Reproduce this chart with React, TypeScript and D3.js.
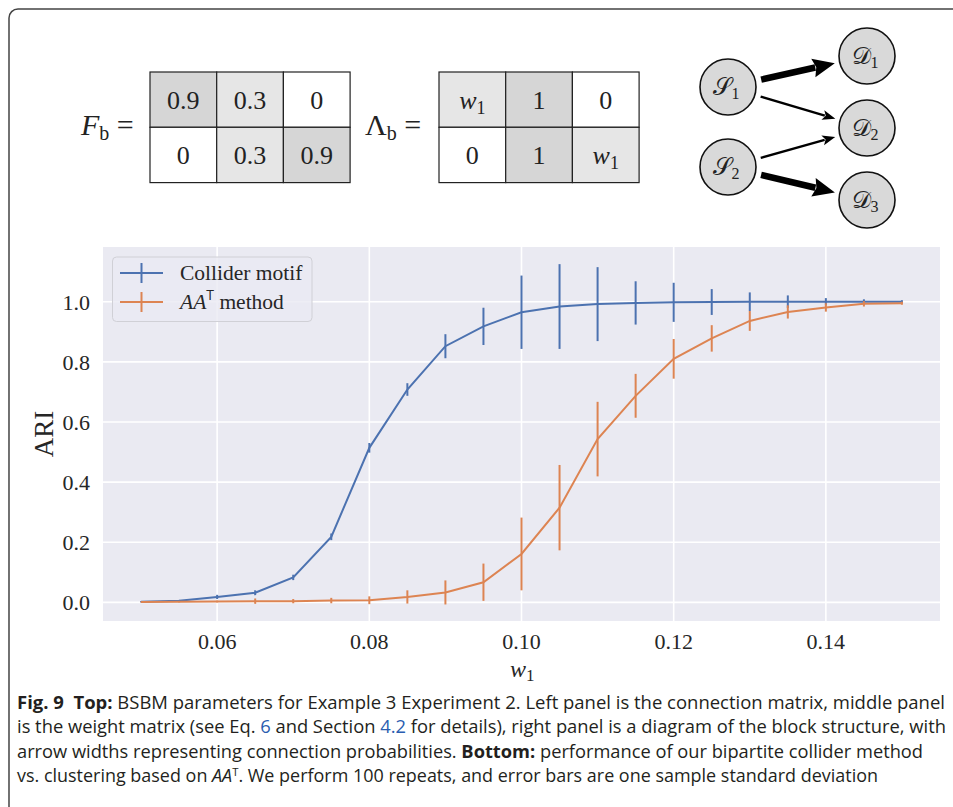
import React from "react";
import * as d3 from "d3";

// w1 values on the x axis
const wValues = [
  0.05, 0.055, 0.06, 0.065, 0.07, 0.075, 0.08, 0.085, 0.09, 0.095, 0.1, 0.105,
  0.11, 0.115, 0.12, 0.125, 0.13, 0.135, 0.14, 0.145, 0.15,
];
const colliderMean = [
  0.002, 0.005, 0.018, 0.032, 0.083, 0.218, 0.514, 0.708, 0.852, 0.918, 0.965,
  0.984, 0.992, 0.996, 0.998, 0.999, 1.0, 1.0, 1.0, 1.0, 1.0,
];
const colliderStd = [
  0.002, 0.003, 0.007, 0.008, 0.009, 0.011, 0.016, 0.021, 0.04, 0.062, 0.122,
  0.141, 0.123, 0.072, 0.065, 0.043, 0.031, 0.021, 0.012, 0.008, 0.005,
];
const aatMean = [
  0.001, 0.002, 0.003, 0.004, 0.004, 0.006, 0.007, 0.018, 0.033, 0.067, 0.161,
  0.315, 0.543, 0.687, 0.81, 0.878, 0.936, 0.966, 0.981, 0.993, 0.995,
];
const aatStd = [
  0.001, 0.002, 0.003, 0.009, 0.007, 0.009, 0.013, 0.022, 0.04, 0.062, 0.121,
  0.142, 0.124, 0.073, 0.066, 0.044, 0.033, 0.022, 0.014, 0.009, 0.005,
];
const xTicks = [0.06, 0.08, 0.1, 0.12, 0.14];
const yTicks = [0.0, 0.2, 0.4, 0.6, 0.8, 1.0];

// top panels
const fbCells = [
  ["0.9", "0.3", "0"],
  ["0", "0.3", "0.9"],
];
const fbShade = [
  [2, 1, 0],
  [0, 1, 2],
];
const lbCells = [
  ["w1", "1", "0"],
  ["0", "1", "w1"],
];
const lbShade = [
  [1, 2, 0],
  [0, 2, 1],
];
const nodes = [
  { id: "S1", letter: "\u{1D4AE}", sub: "1", col: 0, row: 0 },
  { id: "S2", letter: "\u{1D4AE}", sub: "2", col: 0, row: 1 },
  { id: "D1", letter: "\u{1D49F}", sub: "1", col: 1, row: 0 },
  { id: "D2", letter: "\u{1D49F}", sub: "2", col: 1, row: 1 },
  { id: "D3", letter: "\u{1D49F}", sub: "3", col: 1, row: 2 },
];
const edges = [
  { from: "S1", to: "D1", p: 0.9 },
  { from: "S1", to: "D2", p: 0.3 },
  { from: "S2", to: "D2", p: 0.3 },
  { from: "S2", to: "D3", p: 0.9 },
];

type Seg = { t: string; b?: boolean; i?: boolean; link?: boolean; sup?: boolean };
const captionLines: { segs: Seg[]; len: number }[] = [
  {
    len: 928,
    segs: [
      { t: "Fig. 9\u00a0\u00a0Top:", b: true },
      { t: " BSBM parameters for Example 3 Experiment 2. Left panel is the connection matrix, middle panel" },
    ],
  },
  {
    len: 929,
    segs: [
      { t: "is the weight matrix (see Eq. " },
      { t: "6", link: true },
      { t: " and Section " },
      { t: "4.2", link: true },
      { t: " for details), right panel is a diagram of the block structure, with" },
    ],
  },
  {
    len: 906,
    segs: [
      { t: "arrow widths representing connection probabilities. " },
      { t: "Bottom:", b: true },
      { t: " performance of our bipartite collider method" },
    ],
  },
  {
    len: 861,
    segs: [
      { t: "vs. clustering based on " },
      { t: "AA", i: true },
      { t: "T", sup: true },
      { t: ". We perform 100 repeats, and error bars are one sample standard deviation" },
    ],
  },
];

const BLUE = "#4C72B0";
const ORANGE = "#DD8452";
const SERIF = "'Liberation Serif', 'DejaVu Serif', serif";
const SANS = "'Open Sans', 'Noto Sans', sans-serif";
const shades = ["#ffffff", "#e6e6e6", "#d6d6d6"];

const plot = { left: 103, right: 940, top: 247, bottom: 621 };

const Matrix = ({ x0, y0, cells, shade }) => {
  const cw = 66.7;
  const ch = 55.3;
  return (
    <g>
      {cells.map((row, r) =>
        row.map((v, c) => (
          <g key={`${r}-${c}`}>
            <rect
              x={x0 + c * cw}
              y={y0 + r * ch}
              width={cw}
              height={ch}
              fill={shades[shade[r][c]]}
              stroke="#222"
              strokeWidth={1.2}
            />
            {v === "w1" ? (
              <text
                x={x0 + c * cw + cw / 2}
                y={y0 + r * ch + ch / 2 + 9}
                textAnchor="middle"
                fontFamily={SERIF}
                fontSize={26}
                fill="#222"
              >
                <tspan fontStyle="italic">w</tspan>
                <tspan fontSize={18} dy={5}>1</tspan>
              </text>
            ) : (
              <text
                x={x0 + c * cw + cw / 2}
                y={y0 + r * ch + ch / 2 + 9}
                textAnchor="middle"
                fontFamily={SERIF}
                fontSize={26}
                fill="#222"
              >
                {v}
              </text>
            )}
          </g>
        ))
      )}
    </g>
  );
};

const App = () => {
  const x = d3.scaleLinear().domain([0.045, 0.155]).range([plot.left, plot.right]);
  const y = d3.scaleLinear().domain([-0.062, 1.182]).range([plot.bottom, plot.top]);
  const line = d3
    .line<number>()
    .x((d, i) => x(wValues[i]))
    .y((d) => y(d));

  const series = [
    { mean: colliderMean, std: colliderStd, color: BLUE },
    { mean: aatMean, std: aatStd, color: ORANGE },
  ];

  // diagram layout
  const nx = d3.scaleOrdinal<number, number>().domain([0, 1]).range([728, 867]);
  const nyS = d3.scaleLinear().domain([0, 1]).range([87, 167]);
  const nyD = d3.scaleLinear().domain([0, 2]).range([56, 200]);
  const R = 28;
  const pos = {};
  nodes.forEach((n) => {
    pos[n.id] = { x: nx(n.col), y: n.col === 0 ? nyS(n.row) : nyD(n.row) };
  });
  const widthScale = d3.scaleLinear().domain([0.3, 0.9]).range([2.4, 6.5]);
  const headLen = d3.scaleLinear().domain([0.3, 0.9]).range([13, 22]);
  const headHalf = d3.scaleLinear().domain([0.3, 0.9]).range([5, 9.5]);

  return (
    <svg
      width={953}
      height={807}
      style={{ position: "absolute", left: 0, top: 0, background: "#fff" }}
    >
      {/* frame */}
      <rect x={9} y={9} width={970} height={830} rx={9} fill="none" stroke="#444" strokeWidth={1.5} />

      {/* F_b matrix */}
      <text x={81} y={135} fontFamily={SERIF} fontSize={30} fill="#222">
        <tspan fontStyle="italic">F</tspan>
        <tspan fontSize={20} dy={5}>b</tspan>
        <tspan dy={-5}> =</tspan>
      </text>
      <Matrix x0={150} y0={72} cells={fbCells} shade={fbShade} />

      {/* Lambda_b matrix */}
      <text x={365} y={135} fontFamily={SERIF} fontSize={30} fill="#222">
        <tspan>Λ</tspan>
        <tspan fontSize={20} dy={5}>b</tspan>
        <tspan dy={-5}> =</tspan>
      </text>
      <Matrix x0={439} y0={72} cells={lbCells} shade={lbShade} />

      {/* block diagram */}
      {edges.map((e, i) => {
        const a = pos[e.from];
        const b = pos[e.to];
        const dx = b.x - a.x;
        const dy = b.y - a.y;
        const L = Math.hypot(dx, dy);
        const ux = dx / L;
        const uy = dy / L;
        const sx = a.x + ux * (R + 6);
        const sy = a.y + uy * (R + 6);
        const tx = b.x - ux * (R + 5);
        const ty = b.y - uy * (R + 5);
        const hl = headLen(e.p);
        const hh = headHalf(e.p);
        const bx = tx - ux * hl;
        const by = ty - uy * hl;
        const head = `M${tx},${ty}L${bx - uy * hh},${by + ux * hh}L${bx + ux * 3},${by + uy * 3}L${bx + uy * hh},${by - ux * hh}Z`;
        return (
          <g key={i}>
            <line x1={sx} y1={sy} x2={bx + ux * 2} y2={by + uy * 2} stroke="#000" strokeWidth={widthScale(e.p)} />
            <path d={head} fill="#000" />
          </g>
        );
      })}
      {nodes.map((n) => (
        <g key={n.id}>
          <circle cx={pos[n.id].x} cy={pos[n.id].y} r={R} fill="#d9d9d9" stroke="#111" strokeWidth={1.6} />
          <text
            x={pos[n.id].x - 2}
            y={pos[n.id].y + 8}
            textAnchor="middle"
            fontFamily="'DejaVu Sans', 'DejaVu Serif', 'Noto Sans', serif"
            fontSize={24}
            fill="#222"
          >
            <tspan>{n.letter}</tspan>
            <tspan fontFamily={SERIF} fontSize={16} dy={4}>{n.sub}</tspan>
          </text>
        </g>
      ))}

      {/* plot background */}
      <rect
        x={plot.left}
        y={plot.top}
        width={plot.right - plot.left}
        height={plot.bottom - plot.top}
        fill="#EAEAF2"
      />
      {xTicks.map((t) => (
        <line key={t} x1={x(t)} x2={x(t)} y1={plot.top} y2={plot.bottom} stroke="#fff" strokeWidth={1.6} />
      ))}
      {yTicks.map((t) => (
        <line key={t} x1={plot.left} x2={plot.right} y1={y(t)} y2={y(t)} stroke="#fff" strokeWidth={1.6} />
      ))}

      {/* series */}
      {series.map((s, k) => (
        <g key={k}>
          <path d={line(s.mean) ?? ""} fill="none" stroke={s.color} strokeWidth={2} />
          {s.mean.map((m, i) => (
            <line
              key={i}
              x1={x(wValues[i])}
              x2={x(wValues[i])}
              y1={y(m - s.std[i])}
              y2={y(m + s.std[i])}
              stroke={s.color}
              strokeWidth={2}
            />
          ))}
        </g>
      ))}

      {/* tick labels */}
      {xTicks.map((t) => (
        <text
          key={t}
          x={x(t)}
          y={649}
          textAnchor="middle"
          fontFamily={SERIF}
          fontSize={22}
          fill="#262626"
        >
          {d3.format(".2f")(t)}
        </text>
      ))}
      {yTicks.map((t) => (
        <text
          key={t}
          x={90}
          y={y(t) + 8}
          textAnchor="end"
          fontFamily={SERIF}
          fontSize={22}
          fill="#262626"
        >
          {d3.format(".1f")(t)}
        </text>
      ))}

      {/* axis labels */}
      <text x={510} y={677} fontFamily={SERIF} fontSize={24} fill="#262626">
        <tspan fontStyle="italic">w</tspan>
        <tspan fontSize={17} dy={4}>1</tspan>
      </text>
      <text
        transform={`translate(53,${(plot.top + plot.bottom) / 2}) rotate(-90)`}
        textAnchor="middle"
        fontFamily={SERIF}
        fontSize={27}
        fill="#262626"
      >
        ARI
      </text>

      {/* legend */}
      <rect x={112.5} y={257} width={199.5} height={64.5} rx={4} fill="rgba(234,234,242,0.8)" stroke="#d0d0d6" strokeWidth={1} />
      {[
        { color: BLUE, label: "collider" },
        { color: ORANGE, label: "aat" },
      ].map((d, i) => {
        const ry = 273 + i * 29;
        return (
          <g key={d.label}>
            <line x1={120} x2={163} y1={ry} y2={ry} stroke={d.color} strokeWidth={2} />
            <line x1={141.5} x2={141.5} y1={ry - 10} y2={ry + 10} stroke={d.color} strokeWidth={2} />
            {d.label === "collider" ? (
              <text x={180} y={ry + 7} fontFamily={SERIF} fontSize={21.5} fill="#262626">
                Collider motif
              </text>
            ) : (
              <text x={180} y={ry + 7} fontFamily={SERIF} fontSize={21.5} fill="#262626">
                <tspan fontStyle="italic">AA</tspan>
                <tspan fontFamily={SANS} fontSize={14} dy={-9}>T</tspan>
                <tspan dy={9}> method</tspan>
              </text>
            )}
          </g>
        );
      })}

      {/* caption */}
      {captionLines.map((ln, i) => (
        <text
          key={i}
          x={17}
          y={709 + i * 24.3}
          fontFamily={SANS}
          fontSize={17.5}
          fill="#231f20"
          textLength={ln.len}
          lengthAdjust="spacingAndGlyphs"
        >
          {ln.segs.map((s, j) => (
            <tspan
              key={j}
              fontWeight={s.b ? "bold" : undefined}
              fontStyle={s.i ? "italic" : undefined}
              fill={s.link ? "#2a5db0" : undefined}
              fontSize={s.sup ? 11 : undefined}
              dy={s.sup ? -6 : j > 0 && ln.segs[j - 1].sup ? 6 : undefined}
            >
              {s.t}
            </tspan>
          ))}
        </text>
      ))}
    </svg>
  );
};

export default App;
